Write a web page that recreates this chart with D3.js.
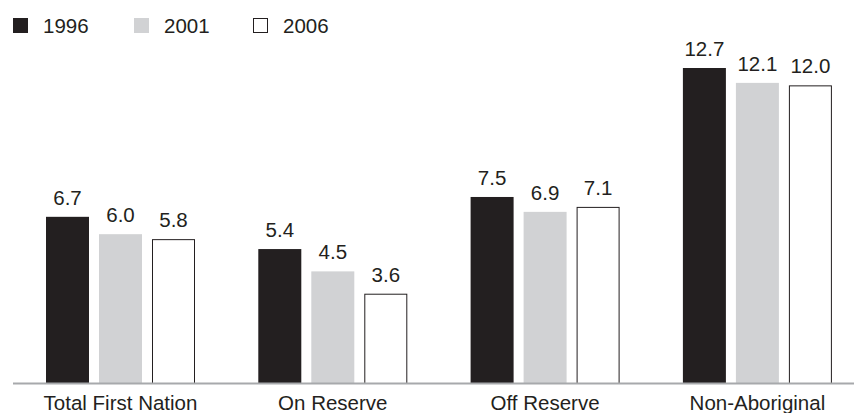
<!DOCTYPE html>
<html>
<head>
<meta charset="utf-8">
<script src="https://cdn.jsdelivr.net/npm/d3@7"></script>
<style>
  html, body { margin: 0; padding: 0; background: #fff; }
  svg { display: block; font-family: "Liberation Sans", Arial, Helvetica, sans-serif; }
</style>
</head>
<body>
<svg id="chart" width="854" height="413"></svg>
<script>
const categories = ["Total First Nation", "On Reserve", "Off Reserve", "Non-Aboriginal"];
const series = ["1996", "2001", "2006"];
const values1996 = [6.7, 5.4, 7.5, 12.7];
const values2001 = [6.0, 4.5, 6.9, 12.1];
const values2006 = [5.8, 3.6, 7.1, 12.0];
const seriesValues = [values1996, values2001, values2006];

const fills = ["#231f20", "#d1d2d4", "#ffffff"];
const strokes = ["none", "none", "#231f20"];
const textColor = "#231f20";

const W = 854, H = 413;
const baseY = 383;
const svg = d3.select("#chart");

// Group bands, then three bars inside each group
const x0 = d3.scaleBand().domain(categories).range([14.35, 863.55]).padding(0);
const innerW = 149;
const innerOff = (x0.bandwidth() - innerW) / 2;
const x1 = d3.scaleBand().domain(series).range([0, innerW]).paddingInner(10 / 53).paddingOuter(0);
const y = d3.scaleLinear().domain([0, 12.7]).range([baseY, 68]);

const rows = categories.map((c, i) => ({
  cat: c,
  vals: series.map((s, j) => ({ s, j, v: seriesValues[j][i] }))
}));

const groups = svg.append("g").selectAll("g").data(rows).join("g")
  .attr("transform", d => `translate(${x0(d.cat) + innerOff},0)`);

groups.selectAll("rect").data(d => d.vals).join("rect")
  .attr("x", d => x1(d.s) + (d.j === 2 ? 0.5 : 0))
  .attr("y", d => y(d.v) + (d.j === 2 ? 0.5 : 0))
  .attr("width", d => x1.bandwidth() - (d.j === 2 ? 1 : 0))
  .attr("height", d => baseY - y(d.v))
  .attr("fill", d => fills[d.j])
  .attr("stroke", d => strokes[d.j])
  .attr("stroke-width", 1);

groups.selectAll("text.val").data(d => d.vals).join("text")
  .attr("class", "val")
  .attr("x", d => x1(d.s) + x1.bandwidth() / 2)
  .attr("y", d => y(d.v) - 12)
  .attr("text-anchor", "middle")
  .attr("font-size", 20.5)
  .attr("fill", textColor)
  .text(d => d.v.toFixed(1));

// Baseline
svg.append("line")
  .attr("x1", 13).attr("x2", W)
  .attr("y1", baseY + 0.5).attr("y2", baseY + 0.5)
  .attr("stroke", "#a7a9ac").attr("stroke-width", 2);

// Category axis labels
const xAxis = d3.axisBottom(d3.scaleBand().domain(categories).range(x0.range())).tickSize(0).tickPadding(0);
const ax = svg.append("g").attr("transform", `translate(0,${baseY})`).call(xAxis);
ax.select(".domain").remove();
ax.selectAll("text")
  .attr("dy", null).attr("y", 27)
  .attr("font-size", 20.5)
  .attr("font-family", "Liberation Sans, Arial, sans-serif")
  .attr("fill", textColor);

// Legend
const legendX = [13, 134, 253];
const leg = svg.append("g").selectAll("g").data(series).join("g")
  .attr("transform", (d, i) => `translate(${legendX[i]},18)`);
leg.append("rect")
  .attr("x", (d, i) => i === 2 ? 0.5 : 0).attr("y", (d, i) => i === 2 ? 0.5 : 0)
  .attr("width", (d, i) => i === 2 ? 14 : 15).attr("height", (d, i) => i === 2 ? 14 : 15)
  .attr("fill", (d, i) => fills[i]).attr("stroke", (d, i) => strokes[i]).attr("stroke-width", 1);
leg.append("text")
  .attr("x", 30).attr("y", 15)
  .attr("font-size", 20.5)
  .attr("fill", textColor)
  .text(d => d);
</script>
</body>
</html>
